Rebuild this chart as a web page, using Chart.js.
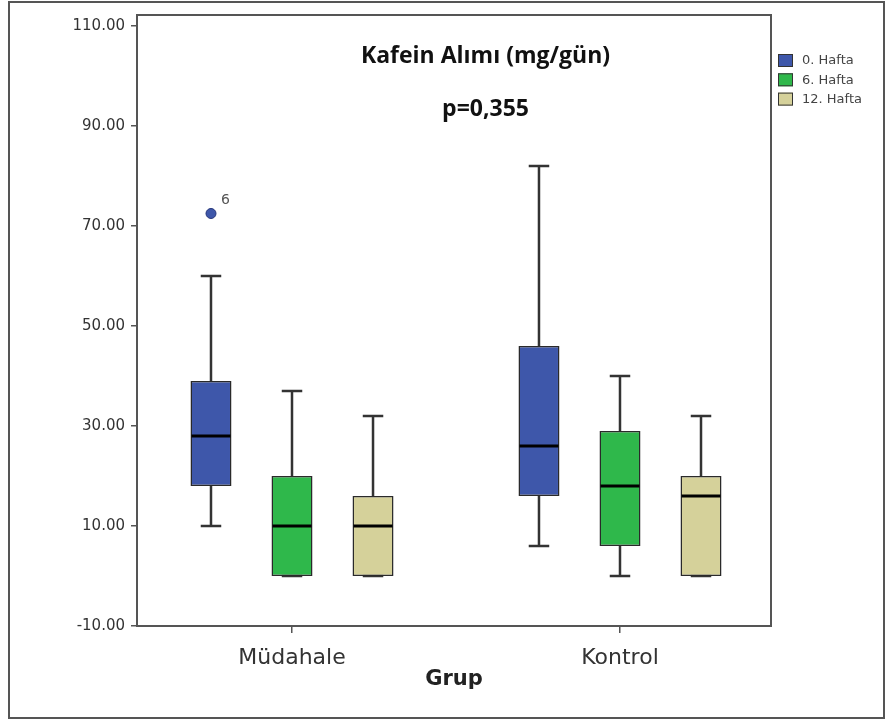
<!DOCTYPE html>
<html>
<head>
<meta charset="utf-8">
<script src="https://cdn.jsdelivr.net/npm/chart.js@4/dist/chart.umd.min.js"></script>
<style>
html,body{margin:0;padding:0;background:#fff;}
canvas{display:block;}
</style>
</head>
<body>
<canvas id="c" width="889" height="722"></canvas>
<script>
// ---- data ----
const categories = ['Müdahale', 'Kontrol'];
const seriesNames = ['0. Hafta', '6. Hafta', '12. Hafta'];

const week0Min = [10, 6];
const week0Q1  = [18, 16];
const week0Med = [28, 26];
const week0Q3  = [39, 46];
const week0Max = [60, 82];

const week6Min = [0, 0];
const week6Q1  = [0, 6];
const week6Med = [10, 18];
const week6Q3  = [20, 29];
const week6Max = [37, 40];

const week12Min = [0, 0];
const week12Q1  = [0, 0];
const week12Med = [10, 16];
const week12Q3  = [16, 20];
const week12Max = [32, 32];

const outlierSeries = [0];
const outlierGroup  = [0];
const outlierValue  = [72.5];
const outlierLabel  = ['6'];

const yTicks = [-10, 10, 30, 50, 70, 90, 110];
const titleText = 'Kafein Alımı (mg/gün)';
const pText = 'p=0,355';
const xTitle = 'Grup';

// ---- styles ----
const fills = ['#3E57AA', '#2FB84B', '#D5D19A'];
const outlierBorder = ['#25357A'];

const stats = [
  {min: week0Min, q1: week0Q1, med: week0Med, q3: week0Q3, max: week0Max},
  {min: week6Min, q1: week6Q1, med: week6Med, q3: week6Q3, max: week6Max},
  {min: week12Min, q1: week12Q1, med: week12Med, q3: week12Q3, max: week12Max}
];

const datasets = seriesNames.map((name, s) => ({
  label: name,
  data: categories.map((c, i) => ({x: i + 1, y: [stats[s].q1[i], stats[s].q3[i]]})),
  backgroundColor: fills[s],
  borderColor: '#2a2a2a',
  borderWidth: 1.5,
  borderSkipped: false,
  categoryPercentage: 0.741,
  barPercentage: 0.506
}));

const boxPlugin = {
  id: 'boxplot',
  beforeDraw(chart) {
    const ctx = chart.ctx;
    ctx.save();
    ctx.fillStyle = '#fff';
    ctx.fillRect(0, 0, chart.width, chart.height);
    ctx.strokeStyle = '#555';
    ctx.lineWidth = 2;
    ctx.strokeRect(9, 2, 875, 716);
    ctx.restore();
  },
  beforeDatasetsDraw(chart) {
    const ctx = chart.ctx, y = chart.scales.y;
    ctx.save();
    ctx.strokeStyle = '#333';
    ctx.lineWidth = 2.5;
    chart.data.datasets.forEach((ds, s) => {
      chart.getDatasetMeta(s).data.forEach((bar, i) => {
        const st = stats[s];
        const cx = bar.x, half = bar.width / 4;
        [[st.q3[i], st.max[i]], [st.q1[i], st.min[i]]].forEach(([a, b]) => {
          const ya = y.getPixelForValue(a), yb = y.getPixelForValue(b);
          ctx.beginPath();
          ctx.moveTo(cx, ya); ctx.lineTo(cx, yb);
          ctx.moveTo(cx - half, yb); ctx.lineTo(cx + half, yb);
          ctx.stroke();
        });
      });
    });
    ctx.restore();
  },
  afterDatasetsDraw(chart) {
    const ctx = chart.ctx, y = chart.scales.y, x = chart.scales.x, ca = chart.chartArea;
    ctx.save();
    // medians
    ctx.strokeStyle = '#000';
    ctx.lineWidth = 3;
    chart.data.datasets.forEach((ds, s) => {
      chart.getDatasetMeta(s).data.forEach((bar, i) => {
        const ym = y.getPixelForValue(stats[s].med[i]);
        ctx.beginPath();
        ctx.moveTo(bar.x - bar.width / 2 + 1, ym);
        ctx.lineTo(bar.x + bar.width / 2 - 1, ym);
        ctx.stroke();
      });
    });
    // outliers
    outlierValue.forEach((v, k) => {
      const bar = chart.getDatasetMeta(outlierSeries[k]).data[outlierGroup[k]];
      const px = bar.x, py = y.getPixelForValue(v);
      ctx.beginPath();
      ctx.arc(px, py, 5, 0, Math.PI * 2);
      ctx.fillStyle = fills[outlierSeries[k]];
      ctx.fill();
      ctx.lineWidth = 1;
      ctx.strokeStyle = outlierBorder[0];
      ctx.stroke();
      ctx.fillStyle = '#555';
      ctx.font = '14px "DejaVu Sans"';
      ctx.textAlign = 'left';
      ctx.textBaseline = 'middle';
      ctx.fillText(outlierLabel[k], px + 10, py - 13);
    });
    // annotation title
    ctx.fillStyle = '#111';
    ctx.font = 'bold 23px "Open Sans"';
    ctx.textAlign = 'center';
    ctx.textBaseline = 'alphabetic';
    const tx = x.getPixelForValue(1.59);
    ctx.fillText(titleText, tx, y.getPixelForValue(102.6));
    ctx.fillText(pText, tx, y.getPixelForValue(92.1));
    // plot frame
    ctx.strokeStyle = '#555';
    ctx.lineWidth = 2;
    ctx.strokeRect(ca.left, ca.top, ca.right - ca.left, ca.bottom - ca.top);
    // legend
    ctx.font = '13px "DejaVu Sans"';
    ctx.textAlign = 'left';
    ctx.textBaseline = 'middle';
    chart.data.datasets.forEach((ds, s) => {
      const by = ca.top + 39 + s * 19.3;
      ctx.fillStyle = ds.backgroundColor;
      ctx.fillRect(ca.right + 7, by, 15, 13);
      ctx.lineWidth = 1;
      ctx.strokeStyle = '#333';
      ctx.strokeRect(ca.right + 7.5, by + 0.5, 14, 12);
      ctx.fillStyle = '#444';
      ctx.fillText(ds.label, ca.right + 31, by + 7);
    });
    ctx.restore();
  }
};

new Chart(document.getElementById('c'), {
  type: 'bar',
  data: {datasets},
  options: {
    responsive: false,
    animation: false,
    devicePixelRatio: 1,
    layout: {padding: {left: 20, right: 118, top: 11, bottom: 0}},
    plugins: {legend: {display: false}, title: {display: false}, tooltip: {enabled: false}},
    scales: {
      x: {
        type: 'linear',
        offset: false,
        min: 0.5274,
        max: 2.4604,
        afterBuildTicks: (scale) => { scale.ticks = categories.map((c, i) => ({value: i + 1})); },
        afterFit: (scale) => { scale.height = 96; },
        grid: {offset: false, drawOnChartArea: false, drawTicks: true, tickLength: 7, color: '#555', lineWidth: 1.5},
        border: {display: false},
        ticks: {
          callback: (v) => categories[Math.round(v) - 1],
          font: {family: 'DejaVu Sans', size: 22},
          color: '#333',
          padding: 12,
          maxRotation: 0,
          autoSkip: false
        },
        title: {
          display: true,
          text: xTitle,
          font: {family: 'DejaVu Sans', size: 21, weight: 'bold'},
          color: '#222',
          padding: {top: 0, bottom: 30}
        }
      },
      y: {
        type: 'linear',
        min: -10,
        max: 112.2,
        afterBuildTicks: (scale) => { scale.ticks = yTicks.map(v => ({value: v})); },
        afterFit: (scale) => { scale.width = 117; },
        grid: {drawOnChartArea: false, drawTicks: true, tickLength: 6, color: '#555', lineWidth: 1.5},
        border: {display: false},
        ticks: {
          callback: (v) => Number(v).toFixed(2),
          font: {family: 'DejaVu Sans', size: 15},
          color: '#333',
          padding: 6
        }
      }
    }
  },
  plugins: [boxPlugin]
});
</script>
</body>
</html>
